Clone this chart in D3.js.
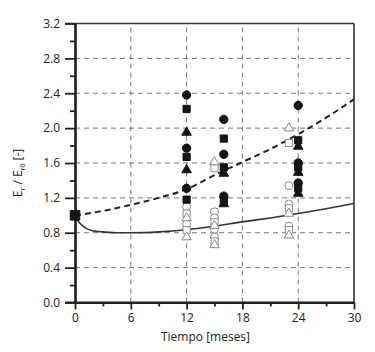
<!DOCTYPE html>
<html><head><meta charset="utf-8">
<script src="https://cdn.jsdelivr.net/npm/d3@7"></script>
<style>body{margin:0;background:#fff}svg{display:block}text{font-family:"Open Sans",sans-serif;fill:#222}</style>
</head><body><svg id="c" width="375" height="352"></svg>
<script>
// ---- data ----
const xTicks = [0, 6, 12, 18, 24, 30];
const yTicks = [0.0, 0.4, 0.8, 1.2, 1.6, 2.0, 2.4, 2.8, 3.2];
const dashedX = [0, 3, 6, 9, 12, 15, 18, 21, 24, 27, 30];
const dashedY = [1.00, 1.05, 1.12, 1.20, 1.30, 1.46, 1.61, 1.76, 1.93, 2.12, 2.33];
const solidX = [0, 0.3, 0.7, 1.2, 2, 3, 4.5, 6, 9, 12, 15, 18, 21, 24, 27, 30];
const solidY = [1.00, 0.94, 0.89, 0.85, 0.82, 0.81, 0.80, 0.80, 0.81, 0.835, 0.875, 0.925, 0.97, 1.02, 1.075, 1.135];
const initialPoint = [0, 1.0];
const filledCircles = [[12,2.38],[12,1.77],[12,1.31],[16,2.10],[16,1.70],[16,1.22],[24,2.26],[24,1.60],[24,1.37]];
const filledSquares = [[12,2.22],[12,1.67],[12,1.18],[16,1.88],[16,1.55],[16,1.16],[24,1.86],[24,1.55],[24,1.31]];
const filledTriangles = [[12,1.95],[12,1.52],[16,1.48],[16,1.13],[24,1.79],[24,1.49],[24,1.25]];
const hollowCircles = [[12,1.10],[12,0.90],[15,1.04],[15,0.97],[15,0.84],[15,0.75],[23,1.34],[23,1.13],[23,0.875]];
const hollowSquares = [[12,1.02],[12,0.83],[15,1.54],[15,0.92],[15,0.70],[23,1.83],[23,1.08],[23,0.83]];
const hollowTriangles = [[12,0.97],[12,0.75],[15,1.61],[15,0.88],[15,0.66],[23,2.00],[23,1.02],[23,0.77]];

// ---- layout ----
const svg = d3.select("#c");
const x = d3.scaleLinear().domain([0, 30]).range([75, 354]);
const y = d3.scaleLinear().domain([0, 3.2]).range([302.5, 23.5]);

// grid
const g = svg.append("g");
g.selectAll("line.hg").data(yTicks.filter(v => v > 0 && v < 3.2)).join("line")
  .attr("x1", x(0)).attr("x2", x(30)).attr("y1", d => y(d)).attr("y2", d => y(d))
  .attr("stroke", "#777").attr("stroke-width", 1).attr("stroke-dasharray", "5,4");
g.selectAll("line.vg").data(xTicks.filter(v => v > 0 && v < 30)).join("line")
  .attr("x1", d => x(d)).attr("x2", d => x(d)).attr("y1", y(0)).attr("y2", y(3.2))
  .attr("stroke", "#777").attr("stroke-width", 1).attr("stroke-dasharray", "5,4");

// frame (top, right)
svg.append("line").attr("x1", x(0) - 10).attr("x2", x(30)).attr("y1", y(3.2)).attr("y2", y(3.2)).attr("stroke", "#333").attr("stroke-width", 1.6);
svg.append("line").attr("x1", x(30)).attr("x2", x(30)).attr("y1", y(3.2)).attr("y2", y(0)).attr("stroke", "#333").attr("stroke-width", 1.6);

// axes
const xAxis = svg.append("g").attr("transform", `translate(0,${y(0)})`)
  .call(d3.axisBottom(x).tickValues(xTicks).tickFormat(d3.format("d")).tickSize(7).tickSizeOuter(0).tickPadding(4));
const xMinor = svg.append("g").attr("transform", `translate(0,${y(0)})`)
  .call(d3.axisBottom(x).tickValues(d3.range(3, 30, 6)).tickFormat("").tickSize(4).tickSizeOuter(0));
const yAxis = svg.append("g").attr("transform", `translate(${x(0)},0)`)
  .call(d3.axisLeft(y).tickValues(yTicks).tickFormat(d3.format(".1f")).tickSize(10).tickSizeOuter(0).tickPadding(5));
const yMinor = svg.append("g").attr("transform", `translate(${x(0)},0)`)
  .call(d3.axisLeft(y).tickValues(d3.range(0.2, 3.2, 0.4)).tickFormat("").tickSize(5).tickSizeOuter(0));
[xAxis, xMinor, yAxis, yMinor].forEach(a => {
  a.select(".domain").attr("stroke", "#222").attr("stroke-width", 2.2);
  a.selectAll(".tick line").attr("stroke", "#222").attr("stroke-width", 1.8);
  a.selectAll(".tick text").attr("font-size", 12).attr("font-family", "Open Sans").attr("fill", "#222");
});
xAxis.select(".domain").attr("d", `M${x(0) - 10},0H${x(30)}`);

// curves
const line = d3.line().x(d => x(d[0])).y(d => y(d[1])).curve(d3.curveMonotoneX);
svg.append("path").attr("d", line(solidX.map((v, i) => [v, solidY[i]])))
  .attr("fill", "none").attr("stroke", "#333").attr("stroke-width", 1.6);
svg.append("path").attr("d", line(dashedX.map((v, i) => [v, dashedY[i]])))
  .attr("fill", "none").attr("stroke", "#222").attr("stroke-width", 2).attr("stroke-dasharray", "6,4");

// markers
const sym = (type, size) => d3.symbol().type(type).size(size)();
function markers(data, type, size, fill, stroke) {
  svg.append("g").selectAll("path").data(data).join("path")
    .attr("d", sym(type, size))
    .attr("transform", d => `translate(${x(d[0])},${y(d[1])})`)
    .attr("fill", fill).attr("stroke", stroke).attr("stroke-width", 1);
}
markers(hollowCircles, d3.symbolCircle, 50, "#fff", "#8a8a8a");
markers(hollowSquares, d3.symbolSquare, 50, "#fff", "#8a8a8a");
markers(hollowTriangles, d3.symbolTriangle, 38, "#fff", "#8a8a8a");
markers(filledCircles, d3.symbolCircle, 55, "#151515", "#151515");
markers(filledSquares, d3.symbolSquare, 52, "#151515", "#151515");
markers(filledTriangles, d3.symbolTriangle, 40, "#151515", "#151515");
markers([initialPoint], d3.symbolSquare, 90, "#151515", "#151515");

// labels
svg.append("text").attr("x", x(15) - 9).attr("y", 341).attr("text-anchor", "middle").attr("font-size", 12)
  .text("Tiempo [meses]");
const yl = svg.append("text").attr("transform", "translate(22,173) rotate(-90)").attr("text-anchor", "middle").attr("font-size", 12);
yl.append("tspan").text("E");
yl.append("tspan").attr("font-size", 7).attr("dy", 3).text("r");
yl.append("tspan").attr("dy", -3).text(" / E");
yl.append("tspan").attr("font-size", 7).attr("dy", 3).text("r0");
yl.append("tspan").attr("dy", -3).text(" [-]");
</script></body></html>
